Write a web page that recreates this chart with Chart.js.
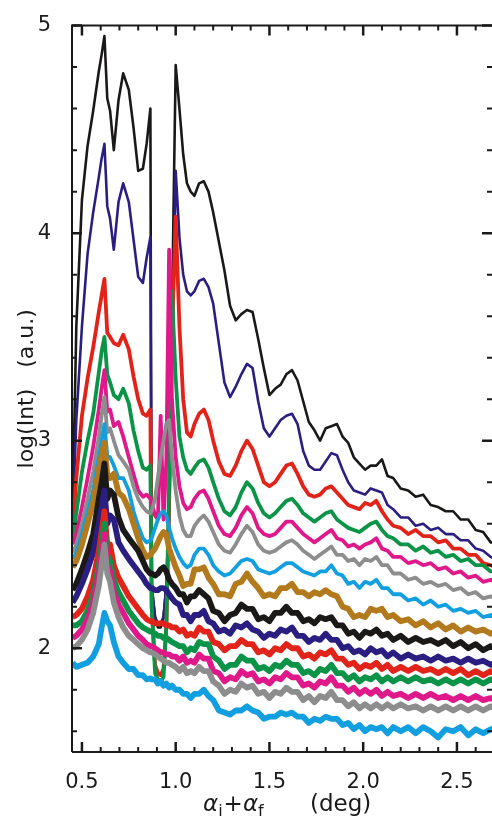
<!DOCTYPE html>
<html>
<head>
<meta charset="utf-8">
<title>log(Int) vs angle</title>
<script src="https://cdn.jsdelivr.net/npm/chart.js@4.4.1/dist/chart.umd.min.js"></script>
<style>
  html, body { margin: 0; padding: 0; background: #fff; }
  #wrap { width: 492px; height: 817px; }
</style>
</head>
<body>
<div id="wrap"><canvas id="scanChart" width="492" height="817"></canvas></div>
<script>
// alpha_i + alpha_f (deg), shared by every scan
const angles = [
  0.45, 0.47, 0.50, 0.53, 0.56, 0.59, 0.605, 0.62, 0.635, 0.65,
  0.67, 0.695, 0.72, 0.75, 0.775, 0.80, 0.825, 0.845, 0.865, 0.872,
  0.89, 0.905, 0.92, 0.935, 0.95, 0.965, 0.98, 1.00, 1.02, 1.04,
  1.06, 1.08, 1.10, 1.125, 1.15, 1.175, 1.20, 1.23, 1.26, 1.29,
  1.32, 1.35, 1.38, 1.41, 1.44, 1.47, 1.50, 1.53, 1.56, 1.59,
  1.62, 1.65, 1.68, 1.71, 1.74, 1.77, 1.80, 1.83, 1.86, 1.89,
  1.92, 1.95, 1.98, 2.01, 2.04, 2.07, 2.10, 2.13, 2.16, 2.20,
  2.24, 2.28, 2.32, 2.36, 2.40, 2.44, 2.48, 2.52, 2.56, 2.60,
  2.64, 2.68, 2.70
];

// log(Int) of each scan, top to bottom
const scanBlack1 = [
  2.65, 3.55, 4.16, 4.42, 4.59, 4.78, 4.86, 4.95, 4.65, 4.59,
  4.40, 4.64, 4.77, 4.69, 4.51, 4.30, 4.31, 4.43, 4.60, 2.30,
  2.15, 2.10, 2.10, 2.15, 2.30, 2.70, 3.60, 4.81, 4.60, 4.38,
  4.24, 4.20, 4.18, 4.24, 4.25, 4.20, 4.10, 3.96, 3.82, 3.65,
  3.58, 3.61, 3.63, 3.62, 3.49, 3.35, 3.22, 3.25, 3.27, 3.32,
  3.34, 3.29, 3.19, 3.09, 3.05, 3.00, 3.06, 3.07, 3.08, 3.02,
  2.99, 2.92, 2.89, 2.86, 2.88, 2.88, 2.91, 2.83, 2.82, 2.77,
  2.76, 2.73, 2.74, 2.69, 2.68, 2.66, 2.66, 2.62, 2.62, 2.57,
  2.56, 2.51, 2.51
];
const scanNavy1 = [
  2.60, 3.10, 3.55, 3.90, 4.10, 4.27, 4.36, 4.43, 4.13, 4.07,
  3.92, 4.15, 4.24, 4.15, 3.97, 3.79, 3.76, 3.88, 3.98, 2.30,
  2.15, 2.12, 2.12, 2.15, 2.30, 2.60, 3.30, 4.30, 3.98, 3.80,
  3.72, 3.70, 3.72, 3.77, 3.78, 3.74, 3.66, 3.47, 3.28, 3.21,
  3.26, 3.32, 3.37, 3.35, 3.19, 3.06, 3.02, 3.06, 3.10, 3.12,
  3.13, 3.08, 2.95, 2.88, 2.86, 2.86, 2.90, 2.94, 2.93, 2.86,
  2.80, 2.76, 2.75, 2.74, 2.77, 2.76, 2.75, 2.69, 2.67, 2.63,
  2.63, 2.59, 2.60, 2.57, 2.58, 2.55, 2.55, 2.52, 2.52, 2.48,
  2.47, 2.44, 2.43
];
const scanRed1 = [
  2.55, 2.82, 3.12, 3.30, 3.45, 3.62, 3.70, 3.78, 3.52, 3.50,
  3.47, 3.46, 3.51, 3.44, 3.31, 3.20, 3.13, 3.12, 3.15, 2.20,
  1.92, 1.88, 1.87, 1.90, 2.10, 2.70, 3.50, 4.08, 3.55, 3.20,
  3.04, 3.02, 3.08, 3.13, 3.15, 3.10, 3.00, 2.90, 2.84, 2.83,
  2.88, 2.95, 3.00, 2.96, 2.88, 2.80, 2.78, 2.80, 2.84, 2.88,
  2.89, 2.84, 2.78, 2.74, 2.73, 2.74, 2.77, 2.78, 2.75, 2.72,
  2.69, 2.68, 2.67, 2.70, 2.69, 2.71, 2.66, 2.62, 2.59, 2.58,
  2.55, 2.57, 2.54, 2.54, 2.51, 2.52, 2.48, 2.48, 2.45, 2.45,
  2.41, 2.40, 2.39
];
const scanGreen1 = [
  2.52, 2.65, 2.85, 3.00, 3.13, 3.33, 3.43, 3.50, 3.32, 3.28,
  3.22, 3.20, 3.25, 3.18, 3.05, 2.95, 2.87, 2.86, 2.88, 2.20,
  1.88, 1.85, 1.84, 1.86, 2.10, 2.80, 3.72, 3.30, 3.02, 2.92,
  2.86, 2.84, 2.87, 2.90, 2.91, 2.87, 2.80, 2.72, 2.66, 2.64,
  2.68, 2.75, 2.80, 2.77, 2.70, 2.65, 2.63, 2.65, 2.68, 2.71,
  2.72, 2.69, 2.65, 2.63, 2.61, 2.63, 2.65, 2.66, 2.62, 2.60,
  2.58, 2.57, 2.56, 2.58, 2.60, 2.61, 2.57, 2.54, 2.53, 2.50,
  2.50, 2.47, 2.49, 2.46, 2.47, 2.44, 2.45, 2.42, 2.43, 2.40,
  2.40, 2.37, 2.37
];
const scanMagenta1 = [
  2.50, 2.55, 2.68, 2.82, 2.97, 3.15, 3.25, 3.34, 3.14, 3.15,
  3.07, 3.09, 3.02, 2.92, 2.84, 2.76, 2.73, 2.74, 2.72, 2.70,
  2.64, 2.62, 3.12, 2.62, 2.90, 3.92, 3.20, 2.92, 2.78, 2.70,
  2.67, 2.68, 2.72, 2.75, 2.76, 2.72, 2.66, 2.59, 2.55, 2.54,
  2.58, 2.64, 2.68, 2.65, 2.58, 2.55, 2.54, 2.55, 2.58, 2.61,
  2.61, 2.58, 2.55, 2.53, 2.51, 2.53, 2.55, 2.57, 2.53, 2.52,
  2.49, 2.50, 2.48, 2.50, 2.51, 2.53, 2.48, 2.47, 2.44, 2.44,
  2.41, 2.42, 2.40, 2.41, 2.38, 2.39, 2.36, 2.37, 2.34, 2.35,
  2.32, 2.33, 2.32
];
const scanGray1 = [
  2.46, 2.50, 2.60, 2.72, 2.85, 3.02, 3.12, 3.21, 3.04, 3.06,
  3.00, 2.93, 2.90, 2.86, 2.78, 2.72, 2.68, 2.66, 2.65, 2.66,
  2.72, 2.82, 2.92, 3.00, 3.08, 3.10, 2.92, 2.76, 2.64, 2.57,
  2.54, 2.54, 2.59, 2.62, 2.64, 2.61, 2.56, 2.50, 2.47, 2.46,
  2.50, 2.55, 2.59, 2.56, 2.50, 2.47, 2.46, 2.47, 2.49, 2.51,
  2.52, 2.50, 2.47, 2.45, 2.43, 2.45, 2.47, 2.49, 2.45, 2.45,
  2.42, 2.43, 2.40, 2.43, 2.42, 2.44, 2.40, 2.40, 2.36, 2.36,
  2.33, 2.34, 2.31, 2.32, 2.30, 2.31, 2.28, 2.29, 2.26, 2.27,
  2.24, 2.25, 2.24
];
const scanSky1 = [
  2.43, 2.46, 2.55, 2.65, 2.76, 2.92, 3.00, 3.08, 2.93, 2.92,
  2.88, 2.82, 2.82, 2.76, 2.66, 2.59, 2.53, 2.51, 2.52, 2.53,
  2.58, 2.62, 2.65, 2.66, 2.64, 2.58, 2.53, 2.48, 2.44, 2.41,
  2.39, 2.40, 2.45, 2.48, 2.48, 2.45, 2.40, 2.37, 2.35, 2.36,
  2.39, 2.42, 2.43, 2.42, 2.38, 2.37, 2.36, 2.37, 2.39, 2.41,
  2.41, 2.39, 2.37, 2.36, 2.35, 2.37, 2.37, 2.40, 2.36, 2.35,
  2.31, 2.32, 2.29, 2.32, 2.31, 2.33, 2.29, 2.29, 2.26, 2.26,
  2.23, 2.24, 2.21, 2.23, 2.20, 2.21, 2.18, 2.19, 2.17, 2.18,
  2.15, 2.16, 2.15
];
const scanBrown = [
  2.39, 2.42, 2.50, 2.60, 2.70, 2.86, 2.93, 2.99, 2.84, 2.82,
  2.84, 2.75, 2.73, 2.67, 2.60, 2.53, 2.47, 2.44, 2.45, 2.46,
  2.48, 2.51, 2.54, 2.56, 2.55, 2.48, 2.44, 2.39, 2.35, 2.30,
  2.31, 2.31, 2.38, 2.38, 2.39, 2.34, 2.31, 2.26, 2.26, 2.25,
  2.31, 2.32, 2.36, 2.32, 2.29, 2.25, 2.26, 2.25, 2.29, 2.29,
  2.31, 2.27, 2.27, 2.25, 2.27, 2.26, 2.28, 2.26, 2.25, 2.20,
  2.19, 2.15, 2.16, 2.15, 2.19, 2.18, 2.19, 2.15, 2.16, 2.13,
  2.14, 2.11, 2.13, 2.10, 2.12, 2.09, 2.11, 2.08, 2.10, 2.08,
  2.09, 2.07, 2.08
];
const scanBlack2 = [
  2.28, 2.31, 2.38, 2.46, 2.55, 2.72, 2.80, 2.89, 2.72, 2.76,
  2.74, 2.63, 2.57, 2.53, 2.50, 2.47, 2.42, 2.38, 2.36, 2.36,
  2.35, 2.36, 2.38, 2.39, 2.37, 2.33, 2.31, 2.29, 2.26, 2.26,
  2.22, 2.25, 2.25, 2.28, 2.26, 2.24, 2.18, 2.17, 2.13, 2.16,
  2.17, 2.21, 2.19, 2.19, 2.14, 2.15, 2.13, 2.17, 2.17, 2.20,
  2.17, 2.17, 2.13, 2.14, 2.12, 2.15, 2.14, 2.15, 2.11, 2.11,
  2.07, 2.08, 2.05, 2.08, 2.07, 2.09, 2.06, 2.07, 2.04, 2.06,
  2.03, 2.05, 2.03, 2.04, 2.02, 2.04, 2.01, 2.03, 2.00, 2.02,
  1.99, 2.01, 2.00
];
const scanNavy2 = [
  2.22, 2.25, 2.31, 2.38, 2.46, 2.60, 2.68, 2.76, 2.60, 2.64,
  2.62, 2.51, 2.47, 2.43, 2.40, 2.37, 2.34, 2.31, 2.29, 2.29,
  2.28, 2.28, 2.29, 2.29, 2.28, 2.26, 2.24, 2.22, 2.21, 2.16,
  2.16, 2.13, 2.16, 2.16, 2.18, 2.13, 2.12, 2.08, 2.09, 2.07,
  2.11, 2.10, 2.12, 2.09, 2.08, 2.05, 2.07, 2.06, 2.09, 2.08,
  2.10, 2.06, 2.06, 2.03, 2.05, 2.04, 2.07, 2.04, 2.04, 2.00,
  2.01, 1.98, 1.99, 1.97, 2.00, 1.98, 1.99, 1.96, 1.98, 1.95,
  1.97, 1.95, 1.96, 1.94, 1.96, 1.94, 1.95, 1.93, 1.95, 1.93,
  1.94, 1.92, 1.93
];
const scanRed2 = [
  2.15, 2.16, 2.19, 2.25, 2.33, 2.47, 2.56, 2.66, 2.50, 2.50,
  2.40, 2.34, 2.30, 2.25, 2.22, 2.19, 2.16, 2.14, 2.13, 2.13,
  2.12, 2.12, 2.12, 2.12, 2.11, 2.11, 2.10, 2.10, 2.08, 2.09,
  2.06, 2.07, 2.06, 2.10, 2.08, 2.08, 2.03, 2.02, 1.99, 2.01,
  2.01, 2.04, 2.02, 2.02, 1.98, 1.99, 1.97, 2.00, 1.99, 2.02,
  2.00, 2.00, 1.96, 1.97, 1.95, 1.98, 1.97, 1.99, 1.95, 1.95,
  1.92, 1.93, 1.90, 1.92, 1.91, 1.93, 1.90, 1.92, 1.89, 1.91,
  1.89, 1.91, 1.89, 1.90, 1.88, 1.90, 1.88, 1.90, 1.87, 1.89,
  1.87, 1.89, 1.88
];
const scanGreen2 = [
  2.11, 2.11, 2.13, 2.18, 2.26, 2.40, 2.50, 2.60, 2.45, 2.42,
  2.33, 2.27, 2.23, 2.18, 2.15, 2.12, 2.10, 2.09, 2.08, 2.08,
  2.07, 2.06, 2.06, 2.05, 2.05, 2.04, 2.03, 2.02, 2.01, 2.01,
  1.98, 2.00, 1.99, 2.03, 2.02, 2.02, 1.96, 1.94, 1.90, 1.92,
  1.92, 1.96, 1.94, 1.94, 1.90, 1.91, 1.89, 1.92, 1.91, 1.94,
  1.92, 1.92, 1.88, 1.89, 1.87, 1.90, 1.89, 1.92, 1.88, 1.88,
  1.85, 1.87, 1.84, 1.86, 1.85, 1.87, 1.84, 1.86, 1.84, 1.86,
  1.84, 1.86, 1.84, 1.85, 1.83, 1.85, 1.83, 1.85, 1.83, 1.85,
  1.83, 1.85, 1.84
];
const scanMagenta2 = [
  2.05, 2.06, 2.09, 2.14, 2.22, 2.36, 2.45, 2.55, 2.40, 2.37,
  2.27, 2.21, 2.17, 2.12, 2.09, 2.06, 2.04, 2.02, 2.01, 2.01,
  2.00, 1.99, 1.98, 1.98, 1.97, 1.97, 1.96, 1.96, 1.94, 1.96,
  1.93, 1.94, 1.93, 1.97, 1.95, 1.95, 1.89, 1.88, 1.84, 1.86,
  1.85, 1.89, 1.87, 1.88, 1.84, 1.85, 1.83, 1.86, 1.85, 1.88,
  1.86, 1.86, 1.82, 1.83, 1.81, 1.84, 1.83, 1.86, 1.82, 1.82,
  1.79, 1.81, 1.78, 1.80, 1.78, 1.80, 1.77, 1.79, 1.77, 1.78,
  1.76, 1.78, 1.76, 1.78, 1.76, 1.77, 1.75, 1.77, 1.75, 1.77,
  1.75, 1.76, 1.755
];
const scanGray2 = [
  2.00, 2.01, 2.04, 2.09, 2.17, 2.30, 2.40, 2.50, 2.36, 2.32,
  2.22, 2.15, 2.10, 2.06, 2.04, 2.02, 2.00, 1.99, 1.98, 1.98,
  1.97, 1.96, 1.95, 1.94, 1.93, 1.93, 1.92, 1.91, 1.89, 1.91,
  1.88, 1.89, 1.88, 1.91, 1.89, 1.89, 1.84, 1.82, 1.78, 1.80,
  1.79, 1.83, 1.81, 1.82, 1.78, 1.79, 1.76, 1.79, 1.78, 1.81,
  1.79, 1.79, 1.75, 1.77, 1.74, 1.77, 1.76, 1.79, 1.75, 1.75,
  1.72, 1.74, 1.71, 1.73, 1.71, 1.73, 1.71, 1.73, 1.71, 1.73,
  1.71, 1.72, 1.70, 1.72, 1.70, 1.72, 1.70, 1.72, 1.70, 1.72,
  1.70, 1.72, 1.71
];
const scanSky2 = [
  1.93, 1.91, 1.92, 1.93, 1.96, 2.02, 2.10, 2.17, 2.13, 2.11,
  2.03, 1.96, 1.93, 1.90, 1.90, 1.87, 1.87, 1.85, 1.855, 1.85,
  1.85, 1.83, 1.84, 1.82, 1.83, 1.81, 1.82, 1.80, 1.80, 1.78,
  1.78, 1.76, 1.78, 1.78, 1.80, 1.77, 1.75, 1.70, 1.69, 1.68,
  1.70, 1.70, 1.72, 1.70, 1.69, 1.66, 1.67, 1.67, 1.69, 1.68,
  1.69, 1.67, 1.67, 1.64, 1.66, 1.65, 1.67, 1.66, 1.66, 1.63,
  1.64, 1.61, 1.63, 1.60, 1.62, 1.61, 1.62, 1.59, 1.62, 1.60,
  1.62, 1.59, 1.62, 1.60, 1.57, 1.61, 1.60, 1.62, 1.58, 1.61,
  1.59, 1.61, 1.61
];

const xTickValues = [0.5, 1.0, 1.5, 2.0, 2.5];
const yTickValues = [2, 3, 4, 5];

const scans = [
  scanBlack1, scanNavy1, scanRed1, scanGreen1, scanMagenta1, scanGray1, scanSky1,
  scanBrown, scanBlack2, scanNavy2, scanRed2, scanGreen2, scanMagenta2, scanGray2, scanSky2
];
const palette = {
  black: "#1b1918", navy: "#2a1f80", red: "#e2231a", green: "#0b9447",
  magenta: "#e0198b", gray: "#8d8d8d", sky: "#129fe0", brown: "#b27a1c"
};
const scanColors = [
  palette.black, palette.navy, palette.red, palette.green, palette.magenta, palette.gray, palette.sky,
  palette.brown, palette.black, palette.navy, palette.red, palette.green, palette.magenta, palette.gray, palette.sky
];

const FONT = '"DejaVu Sans", sans-serif';
const INK = "#1a1a1a";

// inward ticks on all four sides + the frame + axis titles
const frameAndTitles = {
  id: "frameAndTitles",
  afterDraw(chart) {
    const { ctx, chartArea: a, scales: { x, y } } = chart;
    ctx.save();
    ctx.strokeStyle = INK;
    ctx.lineWidth = 2;
    ctx.beginPath();
    ctx.moveTo(a.left, a.bottom);
    ctx.lineTo(a.left, a.top);
    ctx.lineTo(a.right, a.top);
    ctx.moveTo(a.left, a.bottom);
    ctx.lineTo(a.right, a.bottom);
    ctx.stroke();

    for (let i = 5; i <= 26; i++) {
      const px = x.getPixelForValue(i / 10);
      const major = i % 5 === 0;
      const len = major ? 10 : 5;
      ctx.lineWidth = major ? 2.5 : 2;
      ctx.beginPath();
      ctx.moveTo(px, a.bottom); ctx.lineTo(px, a.bottom - len);
      ctx.moveTo(px, a.top); ctx.lineTo(px, a.top + len);
      ctx.stroke();
    }
    for (let i = 8; i <= 25; i++) {
      const py = y.getPixelForValue(i / 5);
      const major = i % 5 === 0;
      const len = major ? 10 : 5;
      ctx.lineWidth = major ? 2.5 : 2;
      ctx.beginPath();
      ctx.moveTo(a.left, py); ctx.lineTo(a.left + len, py);
      ctx.moveTo(a.right, py); ctx.lineTo(a.right - len, py);
      ctx.stroke();
    }

    ctx.fillStyle = INK;
    // y title
    ctx.save();
    ctx.translate(27, (a.top + a.bottom) / 2);
    ctx.rotate(-Math.PI / 2);
    ctx.font = "22px " + FONT;
    ctx.textAlign = "center";
    ctx.textBaseline = "middle";
    ctx.fillText("log(Int)   (a.u.)", 0, 0);
    ctx.restore();

    // x title with subscripts
    const base = 811;
    let cx = 203;
    const parts = [["α", "main"], ["i", "sub"], ["+", "plain"], ["α", "main"], ["f", "sub"]];
    ctx.textAlign = "left";
    ctx.textBaseline = "alphabetic";
    for (const [t, kind] of parts) {
      ctx.font = kind === "sub" ? "16px " + FONT : kind === "main" ? "italic 23px " + FONT : "23px " + FONT;
      ctx.fillText(t, cx, kind === "sub" ? base + 5 : base);
      cx += ctx.measureText(t).width + (kind === "sub" ? 1 : 0);
    }
    ctx.font = "23px " + FONT;
    ctx.fillText("(deg)", 310, base);
    ctx.restore();
  }
};

const ctx = document.getElementById("scanChart");
new Chart(ctx, {
  type: "line",
  data: {
    datasets: scans.map((vals, k) => ({
      data: vals.map((v, i) => ({ x: angles[i], y: v })),
      borderColor: scanColors[k],
      borderWidth: k < 2 ? 2.6 : k < 7 ? 3.8 : 5.8,
      borderJoinStyle: "round",
      order: scans.length - k,
      pointRadius: 0,
      tension: 0,
      fill: false
    }))
  },
  options: {
    responsive: false,
    animation: false,
    devicePixelRatio: 1,
    layout: { padding: { top: 25, right: 0, bottom: 0, left: 0 } },
    plugins: { legend: { display: false }, tooltip: { enabled: false } },
    scales: {
      x: {
        type: "linear",
        min: 0.447,
        max: 2.687,
        afterBuildTicks: (s) => { s.ticks = xTickValues.map((v) => ({ value: v })); },
        afterFit: (s) => { s.height = 65; },
        grid: { display: false },
        border: { display: false },
        ticks: {
          autoSkip: false,
          maxRotation: 0,
          padding: 10,
          color: INK,
          font: { family: FONT, size: 21 },
          callback: (v) => Number(v).toFixed(1)
        }
      },
      y: {
        type: "linear",
        min: 1.5,
        max: 5,
        afterBuildTicks: (s) => { s.ticks = yTickValues.map((v) => ({ value: v })); },
        afterFit: (s) => { s.width = 72; },
        grid: { display: false },
        border: { display: false },
        ticks: {
          padding: 13,
          color: INK,
          font: { family: FONT, size: 21 },
          callback: (v) => String(v)
        }
      }
    }
  },
  plugins: [frameAndTitles]
});
</script>
</body>
</html>
